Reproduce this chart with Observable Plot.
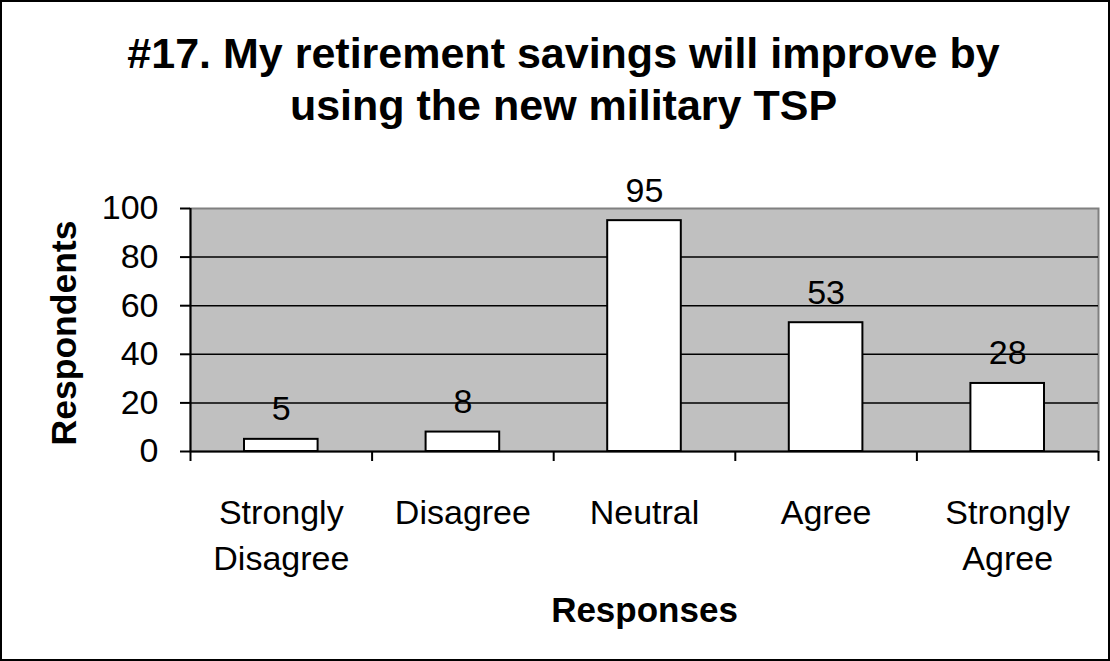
<!DOCTYPE html>
<html>
<head>
<meta charset="utf-8">
<script src="https://cdn.jsdelivr.net/npm/d3@7"></script>
<script src="https://cdn.jsdelivr.net/npm/@observablehq/plot@0.6"></script>
<style>
  html, body { margin: 0; padding: 0; background: #fff; }
  #chart {
    width: 1110px; height: 661px; box-sizing: border-box;
    border: 2px solid #000; background: #fff; overflow: hidden;
    font-family: "Liberation Sans", Arial, sans-serif;
  }
  #title {
    height: 138px; box-sizing: border-box; padding-top: 25px; padding-left: 17px;
    font-size: 43px; font-weight: bold; line-height: 52px; text-align: center; color: #000;
    white-space: nowrap;
  }
  svg { display: block; }
</style>
</head>
<body>
<div id="chart">
  <div id="title">#17. My retirement savings will improve by<br>using the new military TSP</div>
</div>
<script>
const categories = ["Strongly Disagree", "Disagree", "Neutral", "Agree", "Strongly Agree"];
const values = [5, 8, 95, 53, 28];
const yTicks = [0, 20, 40, 60, 80, 100];
const gridTicks = [20, 40, 60, 80];
const xLabel = "Responses";
const yLabel = "Respondents";

const data = categories.map((c, i) => ({category: c, index: i, value: values[i]}));
const boundaries = d3.range(categories.length + 1);
const centers = categories.map((c, i) => i + 0.5);
const labelFor = v => categories[Math.floor(v)].replace(" ", "\n");

const font = '"Liberation Sans", Arial, sans-serif';

const plot = Plot.plot({
  width: 1106,
  height: 519,
  marginLeft: 188,
  marginRight: 10,
  marginTop: 68,
  marginBottom: 208,
  style: {fontFamily: font, fontSize: "34px", color: "#000", background: "transparent", overflow: "visible"},
  x: {type: "linear", domain: [0, categories.length]},
  y: {domain: [0, 100]},
  marks: [
    Plot.frame({fill: "#c0c0c0", stroke: "#808080", strokeWidth: 2}),
    Plot.gridY(gridTicks, {stroke: "#000", strokeOpacity: 1, strokeWidth: 1.5}),
    Plot.rectY(data, {x1: d => d.index, x2: d => d.index + 1, y1: 0, y2: "value",
      insetLeft: 54, insetRight: 54, fill: "#fff", stroke: "#000", strokeWidth: 2}),
    Plot.text(data, {x: d => d.index + 0.5, y: "value", text: d => String(d.value),
      dy: -19, lineAnchor: "bottom", fontSize: 34, fill: "#000"}),
    Plot.ruleY([0], {stroke: "#000", strokeWidth: 2}),
    Plot.ruleX([0], {stroke: "#000", strokeWidth: 2}),
    Plot.axisY(yTicks, {tickSize: 10, tickPadding: 22, strokeWidth: 2, fontSize: 34, label: null, tickFormat: d => String(d)}),
    Plot.axisX(boundaries, {tickSize: 10, strokeWidth: 2, tickFormat: () => "", label: null}),
    Plot.axisX(centers, {tickSize: 0, tickPadding: 40, fontSize: 34, lineHeight: 1.353, tickFormat: labelFor, label: null}),
    Plot.text([xLabel], {frameAnchor: "bottom", dy: 170, lineAnchor: "bottom", textAnchor: "middle", text: d => d,
      fontSize: 35, fontWeight: "bold", fill: "#000"}),
    Plot.text([yLabel], {frameAnchor: "left", dx: -115, dy: 3, rotate: -90, lineAnchor: "bottom", textAnchor: "middle", text: d => d,
      fontSize: 35.5, fontWeight: "bold", fill: "#000"})
  ]
});
document.getElementById("chart").appendChild(plot);
</script>
</body>
</html>
